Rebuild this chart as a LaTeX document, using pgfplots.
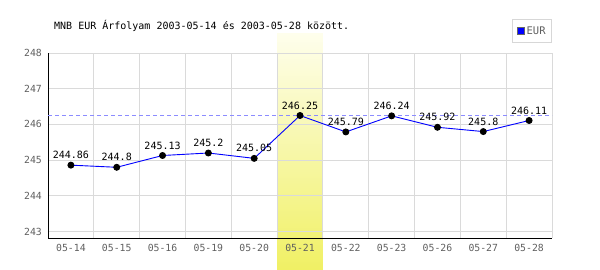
\documentclass[border=0pt]{standalone}
\usepackage{pgfplots}
\pgfplotsset{compat=1.18}
\usepackage{fontspec}
\setmonofont{DejaVu Sans Mono}
\definecolor{gridgrey}{RGB}{218,218,218}
\definecolor{ticktext}{RGB}{95,95,95}
\definecolor{dashblue}{RGB}{140,140,255}
\definecolor{bandtop}{RGB}{254,254,236}
\definecolor{bandbot}{RGB}{240,240,100}
\definecolor{legframe}{RGB}{215,215,215}
\pgfplotsset{
  layers/mylayers/.define layer set={axis background,axis grid,axis ticks,axis lines,pre main,axis tick labels,main,axis descriptions,axis foreground}{},
}
\begin{document}
\begin{tikzpicture}
\node[anchor=base west,inner sep=0pt,font=\ttfamily\fontsize{10bp}{12bp}\selectfont] at (54bp,240bp) {MNB EUR Árfolyam 2003-05-14 és 2003-05-28 között.};
\begin{axis}[
  set layers=mylayers,
  at={(48bp,32bp)}, anchor=south west,
  scale only axis, width=504bp, height=185bp,
  xmin=-0.5, xmax=10.5, ymin=242.82, ymax=248,
  clip=false,
  /pgf/number format/assume math mode=true,
  axis lines*=left, axis line style={black,line width=0.9bp,-},
  xtick={0,...,10},
  xticklabels={05-14,05-15,05-16,05-19,05-20,05-21,05-22,05-23,05-26,05-27,05-28},
  minor xtick={-0.5,0.5,...,10.5},
  ytick={243,244,...,248},
  major tick length=0pt, minor tick length=0pt,
  xmajorgrids=false, xminorgrids=true, ymajorgrids=true,
  grid style={gridgrey,line width=0.9bp},
  minor grid style={gridgrey,line width=0.9bp},
  tick label style={font=\ttfamily\fontsize{9.8bp}{11bp}\selectfont, text=ticktext, inner sep=0pt},
  xticklabel style={anchor=north, yshift=-6.5bp},
  yticklabel style={anchor=east, xshift=-6bp},
  legend style={at={(rel axis cs:1,1)}, anchor=south east, yshift=10bp,
    draw=legframe, line width=0.8bp, fill=white, font=\ttfamily\fontsize{10.5bp}{12bp}\selectfont,
    text=ticktext, inner xsep=4bp, inner ysep=5bp, row sep=0pt},
  legend cell align=left,
]
\addplot[on layer=pre main, draw=none, top color=bandtop, bottom color=bandbot, forget plot]
  coordinates {(4.5,241.924) (5.5,241.924) (5.5,248.55) (4.5,248.55)} -- cycle;
\addplot[dashblue, line width=0.8bp, dash pattern=on 4bp off 3bp, forget plot] coordinates {(-0.5,246.25) (10.5,246.25)};
\addplot[blue, line width=0.9bp, mark=*, mark size=3bp, mark options={fill=black,draw=black},
  point meta=explicit symbolic, nodes near coords,
  every node near coord/.append style={anchor=base, inner sep=0pt, yshift=6.5bp, text=black, font=\ttfamily\fontsize{10bp}{12bp}\selectfont},
  forget plot]
coordinates {
(0,244.86) [244.86]
(1,244.8) [244.8]
(2,245.13) [245.13]
(3,245.2) [245.2]
(4,245.05) [245.05]
(5,246.25) [246.25]
(6,245.79) [245.79]
(7,246.24) [246.24]
(8,245.92) [245.92]
(9,245.8) [245.8]
(10,246.11) [246.11]
};
\addlegendimage{legend image code/.code={\fill[blue] (0bp,-3.5bp) rectangle (7bp,3.5bp); \draw[black!60,line width=0.5bp] (0bp,-3.5bp) rectangle (7bp,3.5bp);}}
\addlegendentry{EUR}
\end{axis}
\pgfresetboundingbox
\path[use as bounding box] (0,0) rectangle (600bp,270bp);
\end{tikzpicture}
\end{document}
